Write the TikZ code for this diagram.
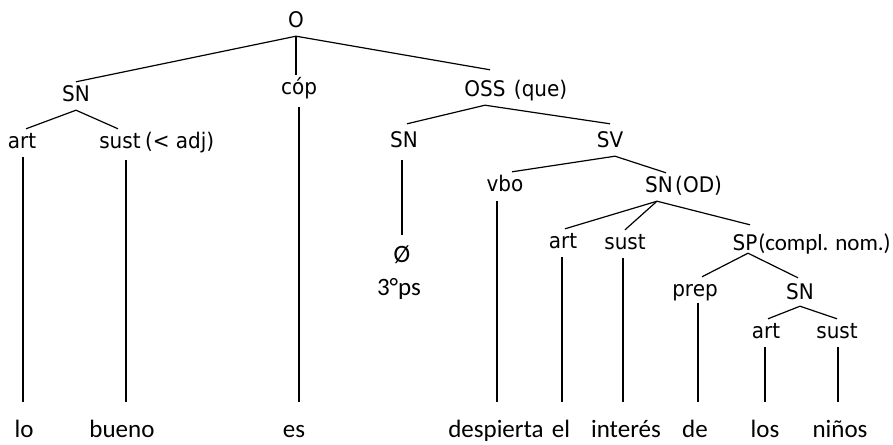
\documentclass[tikz,border=0pt]{standalone}
\usepackage{fontspec}
\setmainfont{DejaVu Sans}[FakeStretch=0.93]
\newfontfamily\wordfont{Carlito}
\begin{document}
\begin{tikzpicture}[x=1pt,y=-1pt,
  cat/.style={inner sep=0pt, minimum height=28pt, font=\fontsize{21.5}{24}\selectfont, text height=15.5pt, text depth=4pt},
  word/.style={inner sep=0pt, minimum height=58pt, font=\wordfont\fontsize{25}{28}\selectfont, text height=17pt, text depth=5pt},
  wsmall/.style={inner sep=0pt, font=\wordfont\fontsize{23}{26}\selectfont},
  note/.style={inner sep=0pt, font=\fontsize{21.5}{24}\selectfont},
  br/.style={line width=1.2pt, black},
  ]
\useasboundingbox[fill=white] (0,0) rectangle (893,444);

% category nodes
\node[cat] (O)    at (296,22)  {O};
\node[cat] (sn1)  at (76,96)   {SN};
\node[cat] (cop)  at (299,89)  {cóp};
\node[cat] (oss)  at (485,91)  {OSS};
\node[cat] (art1) at (22,143)  {art};
\node[cat] (sust1) at (120,143) {sust};
\node[cat] (sn2)  at (404,142) {SN};
\node[cat] (sv)   at (610,142) {SV};
\node[cat] (vbo)  at (505,186) {vbo};
\node[cat] (snod) at (659,187) {SN};
\node[cat] (art2) at (563,243) {art};
\node[cat] (sust2) at (625,244) {sust};
\node[cat] (sp)   at (745,245) {SP};
\node[cat] (prep) at (695,291) {prep};
\node[cat] (sn3)  at (800,294) {SN};
\node[cat] (art3) at (766,333) {art};
\node[cat] (sust3) at (837,333) {sust};

% annotations
\node[note, anchor=base west] (qn)   at ([xshift=8pt]oss.base east) {(que)};
\node[note, anchor=base west] (adjn) at ([xshift=4pt]sust1.base east) {(< adj)};
\node[note, anchor=base west] (odn)  at ([xshift=2pt]snod.base east) {(OD)};
\node[wsmall, anchor=base west] (cnn) at ([xshift=0.5pt]sp.base east) {(compl. nom.)};

% null subject
\node[cat, font=\wordfont\fontsize{25}{27}\selectfont] (zero) at (402,257) {Ø};
\node[cat, font=\wordfont\fontsize{25}{27}\selectfont] (tps)  at (399,290) {3°ps};

% words
\node[word] (lo)    at (24,431)  {lo};
\node[word] (bueno) at (122,431) {bueno};
\node[word] (es)    at (294,431) {es};
\node[word] (desp)  at (496,431) {despierta};
\node[word] (el)    at (561,431) {el};
\node[word] (inter) at (626,431) {interés};
\node[word] (de)    at (695,431) {de};
\node[word] (los)   at (765,431) {los};
\node[word] (ninos) at (840,431) {niños};

% branches
\draw[br] (O.south) -- (sn1.north);
\draw[br] (O.south) -- (O.south |- cop.north);
\draw[br] (O.south) -- ([xshift=5pt,yshift=7pt]oss.north);
\draw[br] (sn1.south) -- ([xshift=4pt]art1.north);
\draw[br] (sn1.south) -- ([xshift=-2pt]sust1.north);
\draw[br] (oss.south) -- ([xshift=3pt,yshift=4pt]sn2.north);
\draw[br] (oss.south) -- ([yshift=4pt]sv.north);
\draw[br] ([xshift=5pt]sv.south) -- ([xshift=7pt]vbo.north);
\draw[br] ([xshift=5pt]sv.south) -- ([xshift=7pt]snod.north);
\draw[br] ([xshift=-2pt]snod.south) -- ([xshift=2pt]art2.north);
\draw[br] ([xshift=-2pt]snod.south) -- (sust2.north);
\draw[br] ([xshift=-2pt]snod.south) -- ([xshift=5pt,yshift=6pt]sp.north);
\draw[br] ([xshift=3pt,yshift=6pt]sp.south) -- ([xshift=7pt]prep.north);
\draw[br] ([xshift=3pt,yshift=6pt]sp.south) -- ([xshift=-2pt,yshift=2pt]sn3.north);
\draw[br] ([yshift=2pt]sn3.south) -- ([xshift=2pt]art3.north);
\draw[br] ([yshift=2pt]sn3.south) -- (sust3.north);

% verticals to words
\draw[br] ([xshift=1pt]art1.south) -- ([xshift=1pt]art1.south |- lo.north);
\draw[br] ([xshift=6pt,yshift=-3pt]sust1.south) -- ([xshift=6pt]sust1.south |- bueno.north);
\draw[br] ([yshift=-4pt]cop.south) -- (cop.south |- es.north);
\draw[br] ([xshift=-2pt,yshift=-4pt]sn2.south) -- ([xshift=-2pt,yshift=8pt]sn2.south |- zero.north);
\draw[br] ([xshift=-8pt,yshift=-1pt]vbo.south) -- ([xshift=-8pt]vbo.south |- desp.north);
\draw[br] ([xshift=-1pt]art2.south) -- ([xshift=-1pt]art2.south |- el.north);
\draw[br] ([xshift=-2pt]sust2.south) -- ([xshift=-2pt]sust2.south |- inter.north);
\draw[br] ([xshift=3pt,yshift=2pt]prep.south) -- ([xshift=3pt]prep.south |- de.north);
\draw[br] ([xshift=-1pt]art3.south) -- ([xshift=-1pt]art3.south |- los.north);
\draw[br] ([xshift=1pt]sust3.south) -- ([xshift=1pt]sust3.south |- ninos.north);
\end{tikzpicture}
\end{document}
